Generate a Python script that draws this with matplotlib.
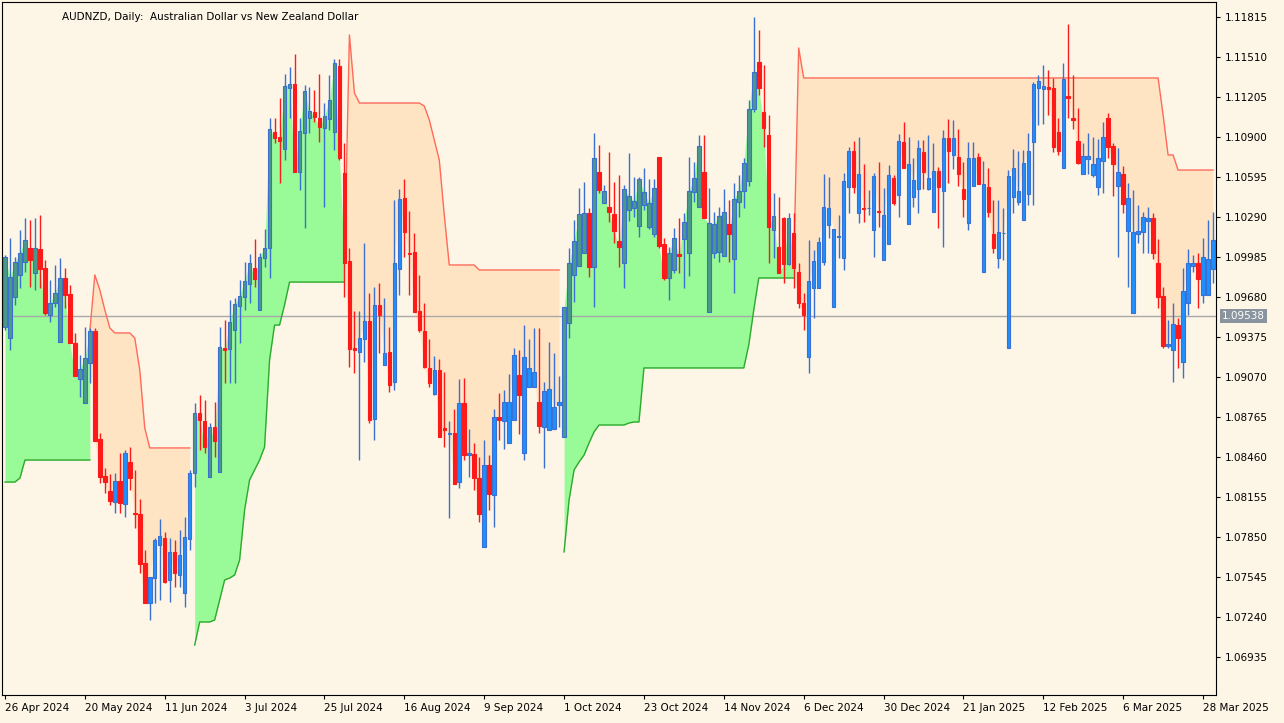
import numpy as np
import matplotlib
matplotlib.use("Agg")
import matplotlib.pyplot as plt
from matplotlib.patches import Rectangle

# ---- readings taken from the reference chart, in chart units (screen rows of the price scale) ----
# price scale calibration: row 17 -> 1.11815, row 657 -> 1.06935
ROW_A, PRICE_A = 17, 1.11815
ROW_B, PRICE_B = 657, 1.06935

bars = [
(327,257,255,330),(338,277,238,350),(297,262,257,305),(275,253,230,288),(262,240,218,272),
(248,260,220,287),(273,248,218,290),(249,269,215,288),(268,313,260,315),(315,303,280,322),
(303,293,265,307),(342,278,258,342),(278,295,268,308),(294,343,285,343),(343,376,333,376),
(379,369,355,397),(403,358,327,403),(363,331,328,383),(331,441,328,441),(439,477,433,483),
(476,482,468,493),(491,501,474,505),(502,481,473,513),(481,503,453,513),(504,453,450,517),
(462,478,447,490),(513,514,470,528),(514,564,499,573),(563,603,550,603),(603,577,577,620),
(578,540,538,603),(545,536,519,600),(538,582,532,583),(580,552,538,602),(552,573,540,587),
(575,555,530,587),(593,537,517,607),(539,473,470,550),(473,413,403,487),(413,420,395,450),
(421,447,400,453),(477,427,423,477),(427,441,402,457),(472,347,327,472),(348,350,320,383),
(349,322,300,383),(330,304,298,383),(306,296,280,343),(297,281,262,310),(284,263,254,303),
(268,279,239,287),(310,257,253,310),(258,248,229,267),(248,129,118,278),(132,138,118,143),
(137,141,98,183),(149,86,74,160),(88,84,67,118),(84,172,54,172),(172,131,118,190),
(133,91,85,228),(118,111,87,133),(112,117,90,122),(118,127,74,142),(128,116,103,207),
(119,100,75,130),(132,63,59,150),(66,158,59,160),(173,263,143,297),(261,349,248,367),
(348,350,311,373),(352,338,311,460),(339,321,243,362),(321,420,293,423),(419,305,287,440),
(305,315,283,353),(365,353,298,365),(352,385,327,392),(382,263,200,390),(269,199,189,295),
(198,232,179,257),(253,254,211,295),(252,312,233,312),(311,330,275,332),(331,367,303,368),
(368,383,339,387),(394,370,356,395),(370,437,359,437),(428,430,372,447),(434,433,421,518),
(433,484,409,484),(482,403,379,488),(403,455,378,460),(455,453,429,477),(454,478,443,490),
(478,514,457,522),(547,465,440,547),(465,494,455,510),(495,417,409,527),(417,420,393,440),
(421,402,390,449),(443,402,374,443),(420,355,348,420),(375,395,350,434),(453,357,325,460),
(387,368,339,387),(387,372,328,387),(402,426,328,433),(427,391,382,468),(430,389,342,430),
(429,407,353,429),(405,402,376,427),(437,307,307,437),(323,263,248,338),(275,241,220,302),
(266,214,188,266),(253,213,182,253),(213,267,208,277),(267,158,133,307),(172,190,145,193),
(203,191,185,203),(207,212,152,222),(214,231,182,243),(241,247,175,267),(263,189,185,288),
(210,196,153,221),(208,201,177,217),(226,179,177,237),(205,192,168,210),(227,203,179,229),
(234,188,179,237),(157,246,157,248),(244,278,238,280),(278,253,247,300),(270,238,228,273),
(254,256,218,273),(239,222,213,288),(253,191,157,276),(192,178,162,202),(207,146,135,207),
(172,218,135,218),(312,223,188,312),(253,224,212,258),(252,216,207,262),(256,212,189,256),
(224,234,200,262),(259,199,183,293),(202,191,175,217),(191,163,158,208),(181,109,100,186),
(109,72,17,112),(62,88,30,95),(112,128,65,147),(135,227,115,263),(230,216,193,258),
(247,273,197,273),(218,264,217,283),(264,218,213,265),(233,268,213,288),(272,303,263,308),
(303,315,293,330),(357,281,240,373),(288,261,250,318),(288,242,237,288),(262,207,174,265),
(225,208,177,238),(307,229,229,307),(237,236,215,258),(258,181,173,270),(187,151,147,213),
(151,187,141,193),(213,174,137,223),(208,209,164,222),(208,208,190,215),(230,176,173,257),
(211,212,162,227),(260,215,188,260),(244,175,165,244),(178,203,175,205),(195,141,134,217),
(142,168,122,168),(224,164,137,224),(197,180,158,207),(189,148,140,213),(152,172,140,189),
(189,178,135,190),(212,171,143,212),(171,187,167,228),(191,138,130,247),(138,151,119,183),
(155,138,120,169),(157,174,129,186),(189,199,162,217),(223,158,142,230),(186,158,142,186),
(157,184,153,184),(272,184,161,272),(187,212,168,217),(234,248,200,253),(258,232,200,268),
(233,233,208,260),(348,176,170,348),(197,168,149,213),(202,191,151,205),(220,163,150,220),
(194,151,133,205),(142,84,82,205),(88,81,75,125),(89,86,65,124),(87,89,70,115),
(88,147,78,152),(132,151,118,155),(168,79,63,168),(96,98,24,118),(118,120,75,129),
(141,163,108,164),(174,156,143,174),(159,156,133,174),(175,164,137,177),(187,158,139,195),
(161,137,122,193),(118,147,113,158),(146,164,143,196),(186,172,148,257),(174,204,166,213),
(231,198,183,287),(313,232,190,313),(234,231,205,243),(232,217,212,253),(221,218,207,253),
(218,253,213,259),(263,297,239,308),(296,346,287,348),(346,344,320,348),(350,324,303,382),
(325,338,318,368),(362,291,268,378),(303,263,249,315),(266,263,255,272),(263,279,253,308),
(295,257,238,303),(295,259,220,295),(269,240,212,283),
]

stop_rows = ([482]*3 + [478] + [460]*14 +
    [275,290,310,328,333,333,333,333,338,370,428] + [448]*9 +
    [645,622,622,622,620,600,580,578,575,560,510,480,470,460,447,360,325,325,305] + [282]*12 +
    [35,93] + [103]*13 + [106,120,140,160,215] + [265]*6 + [270]*17 +
    [552,500,470,462,455,443,432] + [425]*6 + [423,422,422] + [368]*21 + [345,310] + [278]*8 +
    [48] + [78]*72 + [115,155,155] + [170]*8)

date_labels = ["26 Apr 2024","20 May 2024","11 Jun 2024","3 Jul 2024","25 Jul 2024","16 Aug 2024",
               "9 Sep 2024","1 Oct 2024","23 Oct 2024","14 Nov 2024","6 Dec 2024","30 Dec 2024",
               "21 Jan 2025","12 Feb 2025","6 Mar 2025","28 Mar 2025"]
date_label_bars = [0,16,32,48,64,80,96,112,128,144,160,176,192,208,224,240]
price_ticks = [1.11815,1.11510,1.11205,1.10900,1.10595,1.10290,1.09985,1.09680,1.09375,
               1.09070,1.08765,1.08460,1.08155,1.07850,1.07545,1.07240,1.06935]
ref_price = 1.09538

def to_price(r):
    return PRICE_A + (np.asarray(r, float) - ROW_A) * (PRICE_B - PRICE_A) / (ROW_B - ROW_A)

arr = np.array(bars, float)
O, C, H, L = (np.round(to_price(arr[:, k]), 5) for k in range(4))
S = np.round(to_price(stop_rows), 5)
n = len(C)
S = S[:n]
x = np.arange(n)
up = S < C

BG = "#FDF5E6"
fig = plt.figure(figsize=(12.84, 7.23), dpi=100, facecolor=BG)
ax = fig.add_axes([2/1284, 28/723, 1214/1284, 693/723], facecolor=BG)

# segments
segs = []
start = 0
for i in range(1, n + 1):
    if i == n or up[i] != up[start]:
        segs.append((start, i, up[start])); start = i
for a, b, u in segs:
    xs = x[a:b]
    if u:
        ax.fill_between(xs, S[a:b], C[a:b], color="#98FB98", lw=0, zorder=1)
        ax.plot(xs, S[a:b], color="#2fa82f", lw=1, zorder=2)
    else:
        xa = x[max(a-1, 0):b]; sa = np.r_[C[a-1], S[a:b]] if a > 0 else S[a:b]
        ca = C[max(a-1, 0):b]
        ax.fill_between(xa, sa, ca, color="#FFE4C4", lw=0, zorder=1)
        ax.plot(xa, sa, color="#FF6A5A", lw=1, zorder=2)

ax.axhline(ref_price, color="#a9a9a9", lw=1, zorder=1.5)

w = 0.7
for i in range(n):
    bull = C[i] >= O[i]
    if bull:
        face = "#4a9a88" if up[i] else "#1E90FF"
        edge = "#3b6fd0"
    else:
        face = "#FF1A1A"; edge = "#FF1A1A"
    ax.vlines(x[i], L[i], H[i], color=edge, lw=1, zorder=3)
    lo = min(O[i], C[i]); hgt = max(abs(C[i]-O[i]), 0.00002)
    ax.add_patch(Rectangle((x[i]-w/2, lo), w, hgt, facecolor=face, edgecolor=edge, lw=0.8, zorder=4))

ax.set_xlim(-0.6, 242.6)
ax.set_ylim(to_price(695), to_price(2))
ax.yaxis.tick_right()
ax.set_yticks(price_ticks)
ax.set_yticklabels([f"{p:.5f}" for p in price_ticks], fontsize=7.5, family="DejaVu Sans")
ax.set_xticks(date_label_bars)
ax.set_xticklabels(date_labels, fontsize=7.5, ha="left", family="DejaVu Sans")
ax.tick_params(axis="both", length=3, width=0.8, pad=3, color="black")
for sp in ax.spines.values():
    sp.set_color("black"); sp.set_linewidth(0.8)

ax.text(1.0 + 6/1214, ref_price, f"{ref_price:.5f}", transform=ax.get_yaxis_transform(),
        va="center", ha="left", fontsize=7.5, color="white",
        bbox=dict(boxstyle="square,pad=0.2", fc="#8a949e", ec="none"), zorder=10, clip_on=False)

ax.text(60/1214, 1 - 15/693, "AUDNZD, Daily:  Australian Dollar vs New Zealand Dollar",
        transform=ax.transAxes, fontsize=7.5, va="center", ha="left", color="black")

fig.savefig("out.png", dpi=100, facecolor=BG)
